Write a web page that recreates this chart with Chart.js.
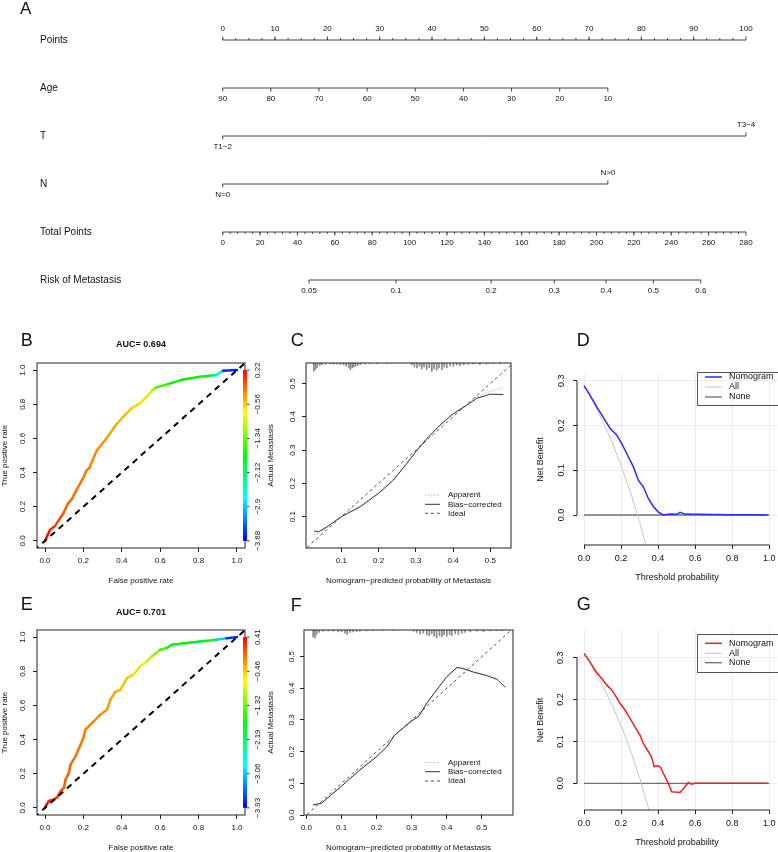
<!DOCTYPE html>
<html>
<head>
<meta charset="utf-8">
<script src="https://cdn.jsdelivr.net/npm/chart.js@4.4.1/dist/chart.umd.min.js"></script>
<style>
body{margin:0;background:#fff;}
#page{position:relative;width:778px;height:852px;overflow:hidden;background:#fff;}
#page canvas{position:absolute;}
</style>
</head>
<body>
<div id="page"></div>
<script>
// ---------------- data ----------------
// A: nomogram (positions on the 0-100 points scale)
const pointTicks = [0,10,20,30,40,50,60,70,80,90,100];
const ageTicks = [90,80,70,60,50,40,30,20,10];
const agePoints = [0,9.2,18.4,27.6,36.8,46.0,55.2,64.4,73.6];
const tLevels = ['T1−2','T3−4'];
const tPoints = [0,100];
const nLevels = ['N=0','N>0'];
const nPoints = [0,73.6];
const totalTicks = [0,20,40,60,80,100,120,140,160,180,200,220,240,260,280];
const riskTicks = [0.05,0.1,0.2,0.3,0.4,0.5,0.6];
const riskTotals = [46.2,92.7,143.6,177.4,205.1,230.4,255.8];

// B / E: ROC curves
const fprB = [0,0.026,0.052,0.095,0.12,0.14,0.165,0.2,0.217,0.23,0.27,0.32,0.37,0.416,0.45,0.494,0.53,0.56,0.58,0.64,0.72,0.806,0.89,0.927,1];
const tprB = [0,0.064,0.088,0.16,0.22,0.245,0.30,0.37,0.415,0.425,0.53,0.60,0.68,0.737,0.776,0.805,0.844,0.883,0.899,0.918,0.945,0.961,0.971,0.996,1];
const cutB = [0.22,-0.56,-1.34,-2.12,-2.9,-3.68];
const fprE = [0,0.009,0.02,0.047,0.064,0.08,0.098,0.107,0.124,0.133,0.159,0.185,0.2,0.21,0.254,0.288,0.323,0.34,0.366,0.392,0.427,0.46,0.496,0.53,0.556,0.6,0.634,0.66,0.737,0.807,0.893,0.945,1];
const tprE = [0,0.02,0.04,0.049,0.064,0.097,0.117,0.166,0.205,0.253,0.302,0.37,0.41,0.458,0.507,0.546,0.575,0.633,0.68,0.69,0.76,0.78,0.83,0.857,0.887,0.926,0.936,0.955,0.965,0.975,0.984,0.994,1];
const cutE = [0.41,-0.46,-1.32,-2.19,-3.06,-3.93];
const rocTicks = [0,0.2,0.4,0.6,0.8,1];

// C / F: calibration
const calCx = [0.026,0.039,0.062,0.1,0.151,0.2,0.24,0.276,0.3,0.33,0.365,0.398,0.437,0.463,0.5,0.535];
const biasCy = [0.057,0.055,0.07,0.1,0.13,0.17,0.21,0.26,0.295,0.335,0.375,0.407,0.435,0.455,0.468,0.467];
const appCy = [0.046,0.05,0.068,0.1,0.133,0.174,0.214,0.263,0.297,0.336,0.376,0.408,0.437,0.46,0.476,0.488];
const rugCx = [0.026,0.030,0.035,0.042,0.048,0.057,0.071,0.079,0.088,0.097,0.106,0.113,0.120,0.124,0.129,0.133,0.138,0.144,0.151,0.164,0.178,0.196,0.222,0.258,0.289,0.296,0.303,0.310,0.316,0.322,0.329,0.336,0.343,0.349,0.356,0.362,0.370,0.376,0.383,0.392,0.401,0.410,0.419,0.429,0.441,0.454,0.472,0.490,0.508,0.526];
const rugCn = [25,20,15,8,5,4,3,4,3,5,6,10,14,20,15,12,10,8,5,3,2,2,2,1,6,12,15,10,18,12,20,14,25,18,22,15,20,12,14,8,10,6,8,5,4,3,4,3,2,2];
const calFx = [0.019,0.043,0.098,0.152,0.2,0.229,0.252,0.276,0.3,0.319,0.343,0.371,0.4,0.429,0.448,0.476,0.514,0.543,0.567];
const biasFy = [0.032,0.037,0.089,0.142,0.184,0.215,0.253,0.275,0.297,0.31,0.353,0.395,0.437,0.466,0.462,0.451,0.44,0.428,0.403];
const appFy = [0.03,0.038,0.092,0.146,0.188,0.218,0.254,0.277,0.299,0.313,0.352,0.394,0.434,0.463,0.46,0.452,0.442,0.434,0.418];
const rugFx = [0.019,0.024,0.029,0.036,0.048,0.062,0.076,0.090,0.100,0.110,0.116,0.124,0.133,0.143,0.152,0.171,0.190,0.219,0.248,0.305,0.314,0.324,0.333,0.343,0.350,0.357,0.364,0.371,0.379,0.386,0.392,0.400,0.408,0.414,0.424,0.433,0.443,0.452,0.467,0.486,0.505,0.524,0.543,0.557];
const rugFn = [22,25,15,8,4,3,4,5,6,10,14,8,6,5,4,3,2,2,1,4,8,12,10,15,18,12,20,25,18,22,15,20,14,18,12,14,10,8,6,4,5,3,2,2];
const calTicksC = [0.1,0.2,0.3,0.4,0.5];
const calTicksF = [0,0.1,0.2,0.3,0.4,0.5];

// D / G: decision curves
const dcaDx = [0,0.032,0.068,0.113,0.14,0.176,0.203,0.23,0.266,0.293,0.32,0.347,0.374,0.40,0.428,0.464,0.5,0.518,0.545,0.608,0.7,0.8,0.9,0.99];
const dcaDy = [0.289,0.268,0.242,0.212,0.194,0.179,0.16,0.138,0.108,0.078,0.063,0.037,0.019,0.007,0.0,0.002,0.0015,0.006,0.002,0.0015,0.001,0.0005,0.0005,0];
const dcaGx = [0,0.032,0.059,0.095,0.122,0.149,0.167,0.194,0.221,0.248,0.275,0.302,0.32,0.347,0.365,0.378,0.40,0.414,0.428,0.455,0.473,0.518,0.545,0.563,0.58,0.6,0.7,0.8,0.9,0.99];
const dcaGy = [0.31,0.29,0.27,0.25,0.235,0.223,0.211,0.191,0.175,0.155,0.135,0.115,0.095,0.076,0.062,0.04,0.042,0.038,0.024,0.0,-0.02,-0.022,-0.008,0.002,-0.002,0,0,0,0,0];
const allX = [0,0.05,0.1,0.15,0.2,0.25,0.3,0.35,0.4];
const allDy = [0.289,0.252,0.21,0.164,0.111,0.052,-0.015,-0.094,-0.185];
const allGy = [0.31,0.274,0.233,0.188,0.138,0.08,0.014,-0.062,-0.15];
const noneX = [0,1];
const noneY = [0,0];
const dcaXTicks = [0,0.2,0.4,0.6,0.8,1];
const dcaYTicks = [0,0.1,0.2,0.3];

// ---------------- helpers ----------------
const FONT = '"Liberation Sans", Arial, Helvetica, sans-serif';
Chart.defaults.font.family = FONT;
Chart.defaults.color = '#111';
const page = document.getElementById('page');

function addCanvas(x, y, w, h){
 const c = document.createElement('canvas');
 c.width = w; c.height = h;
 c.style.left = x+'px'; c.style.top = y+'px';
 c.style.width = w+'px'; c.style.height = h+'px';
 page.appendChild(c);
 return c;
}
const xy = (xs, ys) => xs.map((x,i)=>({x:x, y:ys[i]}));
const minus = v => String(v).replace('-', '−');

function seg(ctx, x0, y0, x1, y1, color, width, dash){
 ctx.save();
 ctx.beginPath();
 ctx.strokeStyle = color; ctx.lineWidth = width; ctx.setLineDash(dash||[]);
 ctx.moveTo(x0,y0); ctx.lineTo(x1,y1); ctx.stroke();
 ctx.restore();
}
function text(ctx, s, x, y, size, align, bold, rot){
 ctx.save();
 ctx.fillStyle = '#111';
 ctx.font = (bold?'bold ':'')+size+'px '+FONT;
 ctx.textAlign = align||'center'; ctx.textBaseline = 'middle';
 ctx.translate(x,y);
 if(rot) ctx.rotate(rot);
 ctx.fillText(s,0,0);
 ctx.restore();
}

// rainbow colour along the ROC curve (ROCR colorize look)
const stopsB = [[0,0],[0.04,10],[0.1,24],[0.3,36],[0.42,48],[0.52,58],[0.57,80],[0.62,112],[0.85,128],[0.9,170],[0.94,210],[0.97,235],[1,240]];
const stopsE = [[0,0],[0.05,12],[0.12,26],[0.3,36],[0.42,48],[0.5,58],[0.57,80],[0.64,115],[0.86,130],[0.91,180],[0.95,220],[1,240]];
function rainbowAt(f, stops){
 let h = stops[stops.length-1][1];
 for(let i=1;i<stops.length;i++){
  if(f<=stops[i][0]){
   const a=stops[i-1], b=stops[i];
   h = a[1]+(b[1]-a[1])*(f-a[0])/(b[0]-a[0]);
   break;
  }
 }
 return 'hsl('+h.toFixed(0)+',100%,48%)';
}

// ---------------- A: nomogram ----------------
const nomoRows = [
 {name:'Points', pts:pointTicks, labels:pointTicks, side:[-1], minor:2.5},
 {name:'Age', pts:agePoints, labels:ageTicks, side:[1]},
 {name:'T', pts:tPoints, labels:tLevels, side:[1,-1]},
 {name:'N', pts:nPoints, labels:nLevels, side:[1,-1]},
 {name:'Total Points', pts:totalTicks.map(t=>t*100/280), labels:totalTicks, side:[1], minor:4*100/280},
 {name:'Risk of Metastasis', pts:riskTotals.map(t=>t*100/280), labels:riskTicks, side:[1]}
];

const nomoPlugin = {
 id:'nomo',
 afterDraw(chart){
  const ctx = chart.ctx, xs = chart.scales.x, ys = chart.scales.y;
  text(ctx, 'A', 20, 9.5, 17, 'left');
  nomoRows.forEach((r,i)=>{
   const y = ys.getPixelForValue(i+0.5);
   text(ctx, r.name, 40, y, 10, 'left');
   if(r.minor){
    for(let v=r.pts[0]; v<r.pts[r.pts.length-1]; v+=r.minor){
     const px = xs.getPixelForValue(v);
     seg(ctx, px, y, px, y+r.side[0]*2, '#444', 1);
    }
   }
   r.pts.forEach((p,j)=>{
    const d = r.side[j % r.side.length];
    const px = xs.getPixelForValue(p);
    seg(ctx, px, y, px, y+d*3.5, '#444', 1);
    text(ctx, String(r.labels[j]), px, y+d*11, 8, 'center');
   });
  });
 }
};

new Chart(addCanvas(0,0,778,304), {
 type:'line',
 data:{datasets: nomoRows.map((r,i)=>({
  data:[{x:r.pts[0], y:i+0.5},{x:r.pts[r.pts.length-1], y:i+0.5}],
  borderColor:'#444', borderWidth:1, pointRadius:0, clip:4
 }))},
 options:{
  responsive:false, animation:false,
  layout:{padding:{left:222.7, right:32, top:16, bottom:0}},
  plugins:{legend:{display:false}, tooltip:{enabled:false}},
  scales:{
   x:{type:'linear', display:false, min:0, max:100},
   y:{type:'linear', display:false, min:0, max:6, reverse:true}
  }
 },
 plugins:[nomoPlugin]
});

// ---------------- small panels ----------------
function panel(p){
 const ox = p.box.l - p.W, oy = p.box.t - p.padTop;
 const w = p.box.r - ox + p.padRight, h = p.box.b - oy + p.H;
 const fs = p.fs;
 const decor = {
  id:'decor',
  afterDraw(chart){
   const ctx = chart.ctx, a = chart.chartArea, X = chart.scales.x, Y = chart.scales.y;
   if(p.frame){
    ctx.save(); ctx.strokeStyle='#222'; ctx.lineWidth=1;
    ctx.strokeRect(a.left, a.top, a.right-a.left, a.bottom-a.top);
    ctx.restore();
   }
   if(p.axisLines){
    seg(ctx, X.getPixelForValue(p.xTicks[0]), a.bottom, X.getPixelForValue(p.xTicks[p.xTicks.length-1]), a.bottom, '#222', 1);
    seg(ctx, a.left, Y.getPixelForValue(p.yTicks[0]), a.left, Y.getPixelForValue(p.yTicks[p.yTicks.length-1]), '#222', 1);
   }
   p.yTicks.forEach(v=>{
    text(ctx, v.toFixed(1), a.left-p.yLabOff, Y.getPixelForValue(v), fs, 'center', false, -Math.PI/2);
   });
   text(ctx, p.letter, p.letterPos[0]-ox, p.letterPos[1]-oy, 18, 'left');
   if(p.title) text(ctx, p.title, p.titlePos[0]-ox, p.titlePos[1]-oy, 9, 'center', true);
   if(p.colorbar){
    const y0 = Y.getPixelForValue(1), y1 = Y.getPixelForValue(0);
    const g = ctx.createLinearGradient(0, y0, 0, y1);
    [0,0.25,0.5,0.75,1].forEach(s=>g.addColorStop(s, 'hsl('+(s*240)+',100%,50%)'));
    ctx.fillStyle = g;
    ctx.fillRect(a.right-2, y0, 4, y1-y0);
    p.colorbar.forEach((c,i)=>{
     const yy = Y.getPixelForValue(rocTicks[rocTicks.length-1-i]);
     seg(ctx, a.right+2, yy, a.right+4.5, yy, '#333', 1);
     text(ctx, minus(c), a.right+13, yy, fs, 'center', false, -Math.PI/2);
    });
   }
   if(p.legend){
    const L = p.legend;
    if(L.box){
     ctx.save(); ctx.strokeStyle='#555'; ctx.lineWidth=1;
     ctx.strokeRect(L.box[0]-ox, L.box[1]-oy, L.box[2], L.box[3]);
     ctx.restore();
    }
    L.items.forEach((it,i)=>{
     const yy = L.ys[i]-oy;
     seg(ctx, L.x0-ox, yy, L.x1-ox, yy, it.color, it.width, it.dash);
     text(ctx, it.label, L.tx-ox, yy, L.fs, 'left');
    });
   }
  }
 };
 return new Chart(addCanvas(ox, oy, w, h), {
  type:'line',
  data:{datasets:p.datasets},
  options:{
   responsive:false, animation:false,
   layout:{padding:{left:0, top:p.padTop, right:p.padRight, bottom:0}},
   plugins:{legend:{display:false}, tooltip:{enabled:false}},
   elements:{point:{radius:0}, line:{tension:0}},
   scales:{
    x:{type:'linear', min:p.xr[0], max:p.xr[1], offset:false,
     afterBuildTicks:s=>{ s.ticks = p.xTicks.map(v=>({value:v})); },
     afterFit:s=>{ s.height = p.H; },
     ticks:{callback:v=>v.toFixed(1), font:{size:fs}, padding:4, maxRotation:0, autoSkip:false, color:'#111'},
     grid:{drawOnChartArea:!!p.grid, color:'#ececec', tickColor:'#222', tickLength:4, offset:false},
     border:{display:false},
     title:{display:true, text:p.xTitle, font:{size:fs}, padding:0, color:'#111'}},
    y:{type:'linear', min:p.yr[0], max:p.yr[1], beginAtZero:false,
     afterBuildTicks:s=>{ s.ticks = p.yTicks.map(v=>({value:v})); },
     afterFit:s=>{ s.width = p.W; },
     ticks:{display:false},
     grid:{drawOnChartArea:!!p.grid, color:'#ececec', tickColor:'#222', tickLength:4},
     border:{display:false},
     title:{display:true, text:p.yTitle, font:{size:fs}, padding:0, color:'#111'}}
   }
  },
  plugins:[decor]
 });
}

const diag = [-0.1, 1.1];
function rocSets(fpr, tpr, stops){
 return [
  {data:xy(diag,diag), borderColor:'#000', borderWidth:2, borderDash:[6,5], order:1},
  {data:xy(fpr,tpr), borderColor:'#f00', borderWidth:2.5, borderCapStyle:'round', borderJoinStyle:'round',
   segment:{borderColor:c=>rainbowAt((c.p0.parsed.x+c.p1.parsed.x)/2, stops)}, order:2}
 ];
}
function calSets(xs, bias, app, rugX, rugN, top){
 return [
  {data:xy(diag,diag), borderColor:'#555', borderWidth:1, borderDash:[3,3], order:3},
  {data:xy(xs,app), borderColor:'#b5b5b5', borderWidth:1, borderDash:[1.5,1.5], order:2},
  {data:xy(xs,bias), borderColor:'#333', borderWidth:1, order:1},
  {type:'bar', data:rugX.map((x,i)=>({x:x, y:[top-rugN[i]*0.001, top]})), backgroundColor:'#8a8a8a',
   barThickness:1, grouped:false, borderWidth:0, order:4}
 ];
}
function dcaSets(xs, ys, allY, color){
 return [
  {data:xy(noneX,noneY), borderColor:'#6f6f6f', borderWidth:1.3, order:3},
  {data:xy(allX,allY), borderColor:'#c4c4c4', borderWidth:1, order:2},
  {data:xy(xs,ys), borderColor:color, borderWidth:1.5, order:1}
 ];
}
const calLegend = (ys)=>({x0:425, x1:440, tx:448, ys:ys, fs:8, items:[
 {label:'Apparent', color:'#b5b5b5', width:1, dash:[1.5,1.5]},
 {label:'Bias−corrected', color:'#333', width:1},
 {label:'Ideal', color:'#555', width:1, dash:[3,3]}
]});
const dcaLegend = (color, ys, box)=>({x0:705, x1:722, tx:729, ys:ys, fs:9, box:box, items:[
 {label:'Nomogram', color:color, width:1.5},
 {label:'All', color:'#c4c4c4', width:1},
 {label:'None', color:'#6f6f6f', width:1.3}
]});

// B
panel({box:{l:37,t:363,r:245,b:548}, W:37, H:38, padTop:40, padRight:30, fs:8, yLabOff:14,
 xr:[-0.0417,1.0417], yr:[-0.0417,1.0417], xTicks:rocTicks, yTicks:rocTicks,
 xTitle:'False positive rate', yTitle:'True positive rate', frame:true,
 letter:'B', letterPos:[20.7,341.5], title:'AUC= 0.694', titlePos:[141,345], colorbar:cutB,
 datasets:rocSets(fprB,tprB,stopsB)});
// E
panel({box:{l:37,t:630,r:245,b:815}, W:37, H:38, padTop:40, padRight:30, fs:8, yLabOff:14,
 xr:[-0.0417,1.0417], yr:[-0.0417,1.0417], xTicks:rocTicks, yTicks:rocTicks,
 xTitle:'False positive rate', yTitle:'True positive rate', frame:true,
 letter:'E', letterPos:[20.7,605], title:'AUC= 0.701', titlePos:[141,612.7], colorbar:cutE,
 datasets:rocSets(fprE,tprE,stopsE)});
// C
panel({box:{l:306,t:363,r:511,b:548}, W:40, H:38, padTop:40, padRight:10, fs:8, yLabOff:13,
 xr:[0.005,0.5556], yr:[0.006,0.5616], xTicks:calTicksC, yTicks:calTicksC,
 xTitle:'Nomogram−predicted probability of Metastasis', yTitle:'Actual Metastasis', frame:true,
 letter:'C', letterPos:[290.7,341.5], legend:calLegend([495,504.3,513.3]),
 datasets:calSets(calCx,biasCy,appCy,rugCx,rugCn,0.5616)});
// F
panel({box:{l:304,t:630,r:513,b:815}, W:38, H:38, padTop:40, padRight:10, fs:8, yLabOff:12.5,
 xr:[-0.007,0.5886], yr:[0,0.584], xTicks:calTicksF, yTicks:calTicksF,
 xTitle:'Nomogram−predicted probability of Metastasis', yTitle:'Actual Metastasis', frame:true,
 letter:'F', letterPos:[290.7,606.5], legend:calLegend([762.3,771.7,781]),
 datasets:calSets(calFx,biasFy,appFy,rugFx,rugFn,0.584)});
// D
panel({box:{l:577,t:374,r:777,b:545}, W:42, H:38, padTop:51, padRight:8, fs:9, yLabOff:15, grid:true, axisLines:true,
 xr:[-0.0378,1.0416], yr:[-0.067,0.315], xTicks:dcaXTicks, yTicks:dcaYTicks,
 xTitle:'Threshold probability', yTitle:'Net Benefit',
 letter:'D', letterPos:[576.7,341.5], legend:dcaLegend('#2b2bff',[377,387,397],[697.5,372.5,100,33]),
 datasets:dcaSets(dcaDx,dcaDy,allDy,'#2b2bff')});
// G
panel({box:{l:577,t:630,r:777,b:810}, W:42, H:38, padTop:47, padRight:8, fs:9, yLabOff:16, grid:true, axisLines:true,
 xr:[-0.0378,1.0416], yr:[-0.0637,0.366], xTicks:dcaXTicks, yTicks:dcaYTicks,
 xTitle:'Threshold probability', yTitle:'Net Benefit',
 letter:'G', letterPos:[576.7,605.5], legend:dcaLegend('#ee2020',[643.3,653.3,662.7],[697.5,634.5,100,38]),
 datasets:dcaSets(dcaGx,dcaGy,allGy,'#ee2020')});
</script>
</body>
</html>
